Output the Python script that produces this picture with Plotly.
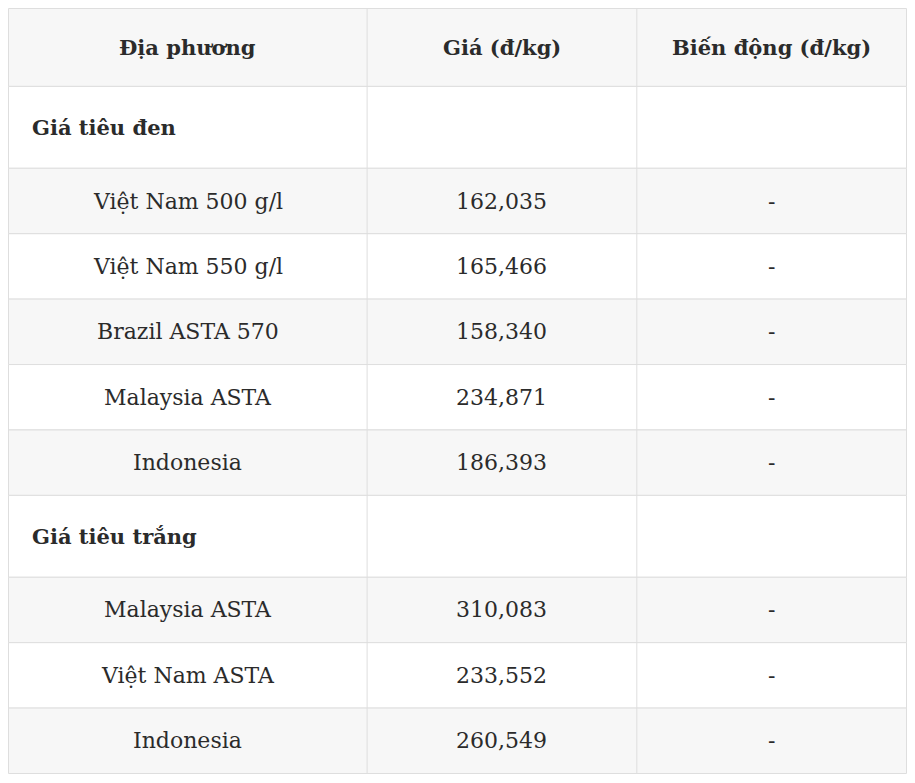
import plotly.graph_objects as go

headers = ["Địa phương", "Giá (đ/kg)", "Biến động (đ/kg)"]
sections = ["Giá tiêu đen", "Giá tiêu trắng"]
black_names = ["Việt Nam 500 g/l", "Việt Nam 550 g/l", "Brazil ASTA 570", "Malaysia ASTA", "Indonesia"]
black_prices = ["162,035", "165,466", "158,340", "234,871", "186,393"]
white_names = ["Malaysia ASTA", "Việt Nam ASTA", "Indonesia"]
white_prices = ["310,083", "233,552", "260,549"]
change = "-"

# table geometry in pixels (page body adds an 8px margin)
W, H = 899, 767
col_edges = [0, 359, 629, 899]
top = 0
h_header, h_section, h_row = 78, 82, 65.5
grid = "#dedede"
grey = "#f7f7f7"
txt = "#2b2b2b"
font = "DejaVu Serif"

rows = [("header", headers)]
for sec, names, prices in [(sections[0], black_names, black_prices), (sections[1], white_names, white_prices)]:
    rows.append(("section", [sec]))
    for n, p in zip(names, prices):
        rows.append(("data", [n, p, change]))

fig = go.Figure()
shapes, annos = [], []
y = top
stripe = 0
for kind, vals in rows:
    h = {"header": h_header, "section": h_section, "data": h_row}[kind]
    if kind == "header":
        fill = grey
        stripe = 0
    elif kind == "section":
        fill = "white"
        stripe = 0
    else:
        fill = grey if stripe % 2 == 0 else "white"
        stripe += 1
    shapes.append(dict(type="rect", x0=col_edges[0], x1=col_edges[-1], y0=y, y1=y + h,
                       fillcolor=fill, line=dict(color=grid, width=1), layer="below"))
    for xe in col_edges[1:-1]:
        shapes.append(dict(type="line", x0=xe, x1=xe, y0=y, y1=y + h, line=dict(color=grid, width=1)))
    if kind == "section":
        annos.append(dict(x=22, y=y + h / 2, text="<b>%s</b>" % vals[0], xanchor="left",
                          showarrow=False, font=dict(family=font, size=21, color=txt)))
    else:
        for i, v in enumerate(vals):
            cx = (col_edges[i] + col_edges[i + 1]) / 2
            t = "<b>%s</b>" % v if kind == "header" else v
            annos.append(dict(x=cx, y=y + h / 2, text=t, showarrow=False,
                              font=dict(family=font, size=21 if kind == "header" else 22, color=txt)))
    y += h

fig.add_trace(go.Scatter(x=[0, W], y=[0, H], mode="markers", marker=dict(opacity=0), hoverinfo="skip"))
fig.update_layout(width=W, height=H, margin=dict(l=0, r=0, t=0, b=0),
                  paper_bgcolor="white", plot_bgcolor="white", showlegend=False,
                  shapes=shapes, annotations=annos,
                  xaxis=dict(range=[-0.5, W + 0.5], visible=False, fixedrange=True),
                  yaxis=dict(range=[H + 0.5, -0.5], visible=False, fixedrange=True))
fig.write_html("out.html", config={"displayModeBar": False})
